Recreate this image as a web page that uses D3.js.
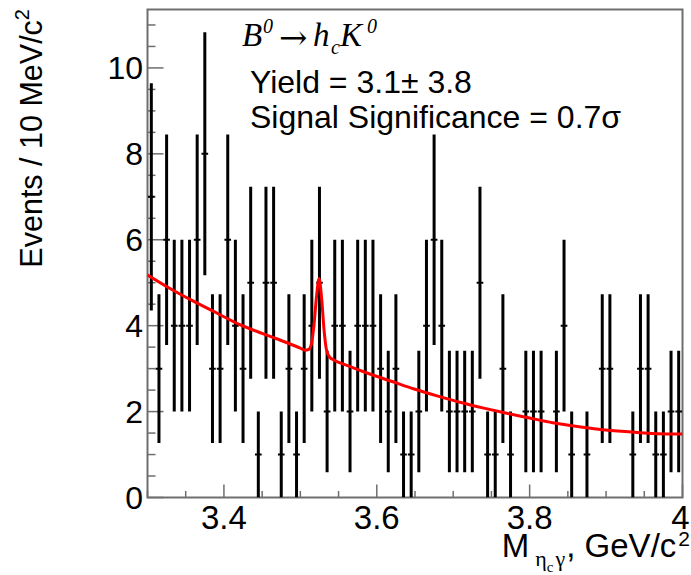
<!DOCTYPE html>
<html>
<head>
<meta charset="utf-8">
<script src="https://cdn.jsdelivr.net/npm/d3@7"></script>
<style>
  html, body { margin: 0; padding: 0; background: #fff; }
  svg { display: block; }
  text { font-family: "Liberation Sans", Arial, Helvetica, sans-serif; fill: #000; }
</style>
</head>
<body>
<svg id="chart" width="691" height="575"></svg>
<script>
// ---- data ----
const binStart = 3.30;          // GeV/c^2
const binWidth = 0.01;          // 10 MeV/c^2
const counts = [
  7, 3, 6, 4, 4, 4, 6, 8, 3, 3,
  6, 4, 3, 5, 1, 5, 5, 1, 3, 1,
  3, 4, 5, 2, 4, 4, 2, 4, 4, 4,
  3, 2, 3, 1, 1, 2, 4, 6, 4, 2,
  2, 2, 2, 5, 1, 1, 3, 1, 0, 2,
  2, 2, 0, 2, 4, 1, 0, 1, 0, 3,
  3, 0, 0, 1, 3, 3, 1, 1, 2, 2
];
const fitX = [3.300,3.330,3.360,3.390,3.420,3.450,3.470,3.490,3.500,3.506,3.511,3.515,3.518,3.521,3.5245,3.528,3.531,3.534,3.538,3.545,3.560,3.590,3.620,3.650,3.680,3.710,3.740,3.770,3.800,3.830,3.860,3.890,3.920,3.950,3.980,4.000];
const fitY = [5.18,4.86,4.57,4.30,4.03,3.82,3.69,3.55,3.48,3.43,3.45,3.62,4.05,4.65,5.10,4.60,3.90,3.45,3.27,3.19,3.08,2.88,2.70,2.52,2.36,2.21,2.08,1.96,1.85,1.74,1.66,1.59,1.54,1.50,1.48,1.48];
const xMajorTicks = [3.4, 3.6, 3.8, 4.0];
const xTickLabels = ["3.4", "3.6", "3.8", "4"];
const yMajorTicks = [0, 2, 4, 6, 8, 10];
const yTickLabels = ["0", "2", "4", "6", "8", "10"];

// ---- layout ----
const L = 147.5, R = 682.5, T = 9.5, B = 497.5;
const svg = d3.select("#chart");
const x = d3.scaleLinear().domain([3.3, 4.0]).range([L, R]);
const y = d3.scaleLinear().domain([0, 11.36]).range([B, T]);
const axisColor = "#6e6e6e";

svg.append("defs").append("clipPath").attr("id", "clip")
  .append("rect").attr("x", L).attr("y", T).attr("width", R - L).attr("height", B - T);

// ticks (inside the frame, ROOT style)
const xMinor = d3.range(0, 15).map(i => 3.3 + 0.05 * i).filter(v => !xMajorTicks.some(m => Math.abs(m - v) < 1e-6));
const gT = svg.append("g").attr("stroke", axisColor).attr("stroke-width", 1.5);
gT.selectAll(".xmaj").data(xMajorTicks).join("line")
  .attr("x1", d => x(d)).attr("x2", d => x(d)).attr("y1", B).attr("y2", B - 13);
gT.selectAll(".xmin").data(xMinor).join("line")
  .attr("x1", d => x(d)).attr("x2", d => x(d)).attr("y1", B).attr("y2", B - 6.5);
const yMinor = d3.range(0, 23).map(i => 0.5 * i).filter(v => v <= 11.36 && !yMajorTicks.includes(v));
gT.selectAll(".ymaj").data(yMajorTicks).join("line")
  .attr("x1", L).attr("x2", L + 16).attr("y1", d => y(d)).attr("y2", d => y(d));
gT.selectAll(".ymin").data(yMinor).join("line")
  .attr("x1", L).attr("x2", L + 8).attr("y1", d => y(d)).attr("y2", d => y(d));

// frame
svg.append("rect").attr("x", L).attr("y", T).attr("width", R - L).attr("height", B - T)
  .attr("fill", "none").attr("stroke", axisColor).attr("stroke-width", 2);

// tick labels
svg.selectAll(".xl").data(xMajorTicks).join("text")
  .attr("x", (d, i) => x(d) + (i === xMajorTicks.length - 1 ? -2 : 0)).attr("y", 529).attr("text-anchor", "middle")
  .attr("font-size", 33).text((d, i) => xTickLabels[i]);
svg.selectAll(".yl").data(yMajorTicks).join("text")
  .attr("x", 143).attr("y", d => y(d)).attr("dy", "0.36em").attr("text-anchor", "end")
  .attr("font-size", 32).text((d, i) => yTickLabels[i]);

// data points with sqrt(N) error bars
const pts = counts.map((c, i) => ({ xc: binStart + binWidth * (i + 0.5), n: c })).filter(d => d.n > 0);
const gD = svg.append("g").attr("clip-path", "url(#clip)").attr("stroke", "#000");
gD.selectAll(".eb").data(pts).join("line")
  .attr("x1", d => x(d.xc)).attr("x2", d => x(d.xc))
  .attr("y1", d => y(d.n + Math.sqrt(d.n))).attr("y2", d => y(Math.max(0, d.n - Math.sqrt(d.n))))
  .attr("stroke-width", 3);
gD.selectAll(".cb").data(pts).join("line")
  .attr("x1", d => x(d.xc - binWidth / 2) + 0.5).attr("x2", d => x(d.xc + binWidth / 2) - 0.5)
  .attr("y1", d => y(d.n)).attr("y2", d => y(d.n))
  .attr("stroke-width", 2);

// fit curve
const line = d3.line().x((d, i) => x(fitX[i])).y((d, i) => y(fitY[i])).curve(d3.curveMonotoneX);
svg.append("path").datum(fitY).attr("clip-path", "url(#clip)")
  .attr("d", line).attr("fill", "none").attr("stroke", "#ff0000").attr("stroke-width", 3);

// axis titles
const yt = svg.append("text").attr("transform", "translate(42,9) rotate(-90)")
  .attr("text-anchor", "end").attr("font-size", 30.5);
yt.append("tspan").text("Events / 10 MeV/c");
yt.append("tspan").attr("font-size", 20).attr("dy", -13).text("2");

const xt = svg.append("text").attr("x", 690).attr("y", 557).attr("text-anchor", "end").attr("font-size", 33);
xt.append("tspan").text("M");
xt.append("tspan").attr("font-family", "Liberation Serif").attr("font-size", 22).attr("dx", 6).attr("dy", 9).text("η");
xt.append("tspan").attr("font-family", "Liberation Serif").attr("font-size", 15).attr("dy", 6).text("c");
xt.append("tspan").attr("font-family", "Liberation Serif").attr("font-size", 22).attr("dx", 2).attr("dy", -6).text("γ");
xt.append("tspan").attr("dy", -9).attr("dx", 1).text(", GeV/c");
xt.append("tspan").attr("font-size", 21).attr("dx", 2).attr("dy", -11).text("2");

// decay label (pieces placed individually)
const serif = "'Liberation Serif', 'Times New Roman', serif";
const gL = svg.append("g");
gL.append("text").attr("x", 242).attr("y", 46).attr("font-size", 33).attr("font-style", "italic").style("font-family", serif).text("B");
gL.append("text").attr("x", 263).attr("y", 33).attr("font-size", 20).attr("font-style", "italic").style("font-family", serif).text("0");
gL.append("text").attr("x", 279).attr("y", 49).attr("font-size", 34).style("font-family", "'DejaVu Serif', serif").text("→");
gL.append("text").attr("x", 313).attr("y", 46).attr("font-size", 33).attr("font-style", "italic").style("font-family", serif).text("h");
gL.append("text").attr("x", 331).attr("y", 54).attr("font-size", 20).attr("font-style", "italic").style("font-family", serif).text("c");
gL.append("text").attr("x", 340).attr("y", 46).attr("font-size", 33).attr("font-style", "italic").style("font-family", serif).text("K");
gL.append("text").attr("x", 367).attr("y", 33).attr("font-size", 20).attr("font-style", "italic").style("font-family", serif).text("0");

// fit results
svg.append("text").attr("x", 250).attr("y", 93).attr("font-size", 32).text("Yield = 3.1± 3.8");
svg.append("text").attr("x", 250).attr("y", 128).attr("font-size", 32).text("Signal Significance = 0.7σ");
</script>
</body>
</html>
